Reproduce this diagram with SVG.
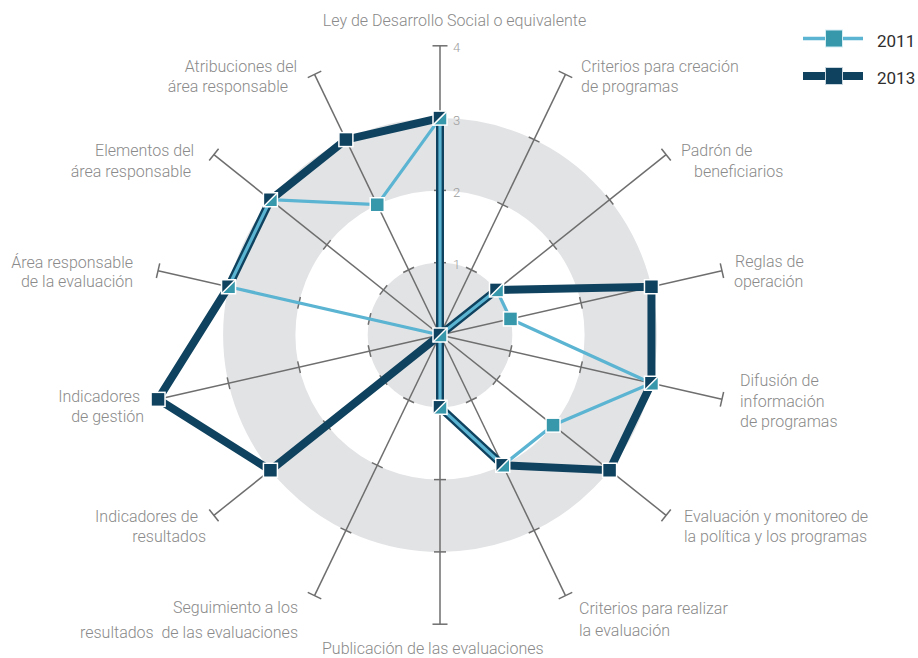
<svg xmlns="http://www.w3.org/2000/svg" xmlns:xlink="http://www.w3.org/1999/xlink" width="918" height="658" viewBox="0 0 918 658">
<style>
.lbl{font-family:Roboto,"Liberation Sans",Arial,sans-serif;font-weight:300;font-size:16px;fill:#8a8a8a;white-space:pre}
.end{text-anchor:end}
.scale{font-family:Roboto,"Liberation Sans",Arial,sans-serif;font-weight:300;font-size:13px;fill:#9c9c9c}
.leg{font-family:Roboto,"Liberation Sans",Arial,sans-serif;font-weight:400;font-size:17px;fill:#2e2e2e}
.ax{stroke:#6e6e6e;stroke-width:1.5;fill:none}
.s13{fill:none;stroke:#0f425e;stroke-width:8;stroke-linejoin:miter}
.s11{fill:none;stroke:#5ab4d2;stroke-width:3.2;stroke-linejoin:miter}
</style>
<defs>
<g id="axis">
<line class="ax" x1="440" y1="335" x2="440" y2="45.8"/>
<line class="ax" x1="434" y1="262.7" x2="446" y2="262.7"/>
<line class="ax" x1="434" y1="190.4" x2="446" y2="190.4"/>
<line class="ax" x1="434" y1="118.1" x2="446" y2="118.1"/>
<line class="ax" x1="432.5" y1="45.8" x2="447.5" y2="45.8"/>
</g>
<g id="mS">
<path d="M-7,-7H7L-7,7Z" fill="#0f425e"/>
<path d="M7,-7V7H-7Z" fill="#3797ab"/>
<path d="M-7,7L7,-7" stroke="#fff" stroke-width="1.5"/>
<rect x="-7" y="-7" width="14" height="14" fill="none" stroke="#fff" stroke-width="1.5"/>
</g>
<rect id="mD" x="-7" y="-7" width="14" height="14" fill="#0f425e" stroke="#fff" stroke-width="1.5"/>
<rect id="mL" x="-7" y="-7" width="14" height="14" fill="#3797ab" stroke="#fff" stroke-width="1.5"/>
</defs>

<g id="background">
<circle cx="440" cy="335" r="72.3" fill="#e2e3e5"/>
<circle cx="440" cy="335" r="180.75" fill="none" stroke="#e2e3e5" stroke-width="72.3"/>
</g>

<g id="axes">
<use xlink:href="#axis"/>
<use xlink:href="#axis" transform="rotate(25.714 440 335)"/>
<use xlink:href="#axis" transform="rotate(51.429 440 335)"/>
<use xlink:href="#axis" transform="rotate(77.143 440 335)"/>
<use xlink:href="#axis" transform="rotate(102.857 440 335)"/>
<use xlink:href="#axis" transform="rotate(128.571 440 335)"/>
<use xlink:href="#axis" transform="rotate(154.286 440 335)"/>
<use xlink:href="#axis" transform="rotate(180 440 335)"/>
<use xlink:href="#axis" transform="rotate(205.714 440 335)"/>
<use xlink:href="#axis" transform="rotate(231.429 440 335)"/>
<use xlink:href="#axis" transform="rotate(257.143 440 335)"/>
<use xlink:href="#axis" transform="rotate(282.857 440 335)"/>
<use xlink:href="#axis" transform="rotate(308.571 440 335)"/>
<use xlink:href="#axis" transform="rotate(334.286 440 335)"/>
</g>

<g id="scale-labels">
<text class="scale" x="453" y="52">4</text>
<text class="scale" x="453" y="124.5">3</text>
<text class="scale" x="453" y="197">2</text>
<text class="scale" x="453" y="269">1</text>
</g>

<g id="connectors">
<polygon id="series-2013" class="s13" points="440,118.1 440,335 496.53,289.92 651.46,286.74 651.46,383.26 609.58,470.24 502.74,465.28 440,407.3 440,335 270.42,470.24 158.05,399.35 228.54,286.74 270.42,199.76 345.89,139.58"/>
<polygon id="series-2011" class="s11" points="440,118.1 440,335 496.53,289.92 510.49,318.91 651.46,383.26 553.05,425.16 502.74,465.28 440,407.3 440,335 440,335 440,335 228.54,286.74 270.42,199.76 377.26,204.72"/>
</g>

<g id="markers">
<use xlink:href="#mS" x="440" y="118.1"/>
<use xlink:href="#mS" x="440" y="335"/>
<use xlink:href="#mS" x="496.53" y="289.92"/>
<use xlink:href="#mS" x="651.46" y="383.26"/>
<use xlink:href="#mS" x="502.74" y="465.28"/>
<use xlink:href="#mS" x="440" y="407.3"/>
<use xlink:href="#mS" x="228.54" y="286.74"/>
<use xlink:href="#mS" x="270.42" y="199.76"/>
<use xlink:href="#mD" x="651.46" y="286.74"/>
<use xlink:href="#mD" x="609.58" y="470.24"/>
<use xlink:href="#mD" x="270.42" y="470.24"/>
<use xlink:href="#mD" x="158.05" y="399.35"/>
<use xlink:href="#mD" x="345.89" y="139.58"/>
<use xlink:href="#mL" x="510.49" y="318.91"/>
<use xlink:href="#mL" x="553.05" y="425.16"/>
<use xlink:href="#mL" x="377.26" y="204.72"/>
</g>

<g id="labels">
<g id="n-ley"><text class="lbl" x="454.5" y="26" text-anchor="middle">Ley de Desarrollo Social o equivalente</text></g>
<g id="n-criterios-creacion"><text class="lbl" x="581" y="72">Criterios para creación</text><text class="lbl" x="581" y="92">de programas</text></g>
<g id="n-padron"><text class="lbl" x="681" y="156">Padrón de</text><text class="lbl" x="694" y="177">beneficiarios</text></g>
<g id="n-reglas"><text class="lbl" x="735" y="267">Reglas de</text><text class="lbl" x="734" y="287">operación</text></g>
<g id="n-difusion"><text class="lbl" x="740" y="386">Difusión de</text><text class="lbl" x="740" y="406.5">información</text><text class="lbl" x="740" y="427">de programas</text></g>
<g id="n-evaluacion"><text class="lbl" x="684" y="522">Evaluación y monitoreo de</text><text class="lbl" x="684" y="542">la política y los programas</text></g>
<g id="n-criterios-realizar"><text class="lbl" x="579" y="614">Criterios para realizar</text><text class="lbl" x="579" y="636">la evaluación</text></g>
<g id="n-publicacion"><text class="lbl" x="322" y="654">Publicación de las evaluaciones</text></g>
<g id="n-seguimiento"><text class="lbl end" x="298" y="613">Seguimiento a los</text><text class="lbl end" x="298" y="638">resultados  de las evaluaciones</text></g>
<g id="n-ind-resultados"><text class="lbl end" x="198" y="522">Indicadores de</text><text class="lbl end" x="206" y="542">resultados</text></g>
<g id="n-ind-gestion"><text class="lbl end" x="140" y="402">Indicadores</text><text class="lbl end" x="144" y="422">de gestión</text></g>
<g id="n-area-eval"><text class="lbl end" x="133" y="268">Área responsable</text><text class="lbl end" x="133" y="287">de la evaluación</text></g>
<g id="n-elementos"><text class="lbl end" x="194" y="156">Elementos del</text><text class="lbl end" x="191" y="177">área responsable</text></g>
<g id="n-atribuciones"><text class="lbl end" x="297" y="72">Atribuciones del</text><text class="lbl end" x="288" y="92">área responsable</text></g>
</g>

<g id="legend">
<line x1="803" y1="38.5" x2="863" y2="38.5" stroke="#5ab4d2" stroke-width="3.3"/>
<rect x="825.5" y="30" width="17" height="17" fill="#3797ab" stroke="#d6eef4" stroke-width="1"/>
<text class="leg" x="877" y="46.5">2011</text>
<line x1="803" y1="76" x2="863" y2="76" stroke="#0f425e" stroke-width="8"/>
<rect x="825.5" y="67.5" width="17" height="17" fill="#0f425e" stroke="#c9d6dd" stroke-width="1"/>
<text class="leg" x="877" y="84">2013</text>
</g>
</svg>
